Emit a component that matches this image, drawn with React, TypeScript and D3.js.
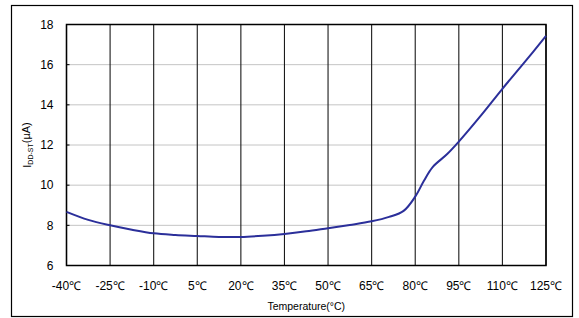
import { useRef, useEffect } from 'react';
import * as d3 from 'd3';

// Temperature (°C) and supply current (µA)
const temps = [-40, -32.5, -25, -17.5, -10, -2.5, 5, 12.5, 20, 27.5, 35, 42.5, 50, 57.5, 65, 71, 76, 80, 83, 86, 91, 95, 102.5, 110, 117.5, 125];
const current = [8.67, 8.27, 8.0, 7.78, 7.6, 7.52, 7.47, 7.42, 7.42, 7.48, 7.57, 7.7, 7.86, 8.02, 8.2, 8.42, 8.72, 9.43, 10.22, 10.9, 11.55, 12.17, 13.45, 14.8, 16.1, 17.43];

const xTicks = [-40, -25, -10, 5, 20, 35, 50, 65, 80, 95, 110, 125];
const yTicks = [6, 8, 10, 12, 14, 16, 18];

export default function App() {
  const svgRef = useRef<SVGSVGElement>(null);
  const width = 579;
  const height = 318;

  useEffect(() => {
    if (!svgRef.current) return;
    const svg = d3.select(svgRef.current);
    svg.selectAll('*').remove();

    const margin = { top: 24.5, right: 33, bottom: 52.5, left: 66.5 };
    const innerW = width - margin.left - margin.right;
    const innerH = height - margin.top - margin.bottom;
    const font = 'Arial, "Liberation Sans", sans-serif';

    // outer frame
    svg.append('rect')
      .attr('x', 11.5).attr('y', 5.5)
      .attr('width', 561).attr('height', 311)
      .attr('fill', '#fff').attr('stroke', '#000').attr('stroke-width', 1.2);

    const g = svg.append('g').attr('transform', `translate(${margin.left},${margin.top})`);

    const x = d3.scaleLinear().domain([-40, 125]).range([0, innerW]);
    const y = d3.scaleLinear().domain([6, 18]).range([innerH, 0]);

    // horizontal grid (light)
    g.selectAll('.hgrid')
      .data(yTicks)
      .enter().append('line')
      .attr('x1', 0).attr('x2', innerW)
      .attr('y1', d => y(d)).attr('y2', d => y(d))
      .attr('stroke', '#c4c4c4').attr('stroke-width', 1);

    // vertical grid (dark)
    g.selectAll('.vgrid')
      .data(xTicks)
      .enter().append('line')
      .attr('x1', d => x(d)).attr('x2', d => x(d))
      .attr('y1', 0).attr('y2', innerH)
      .attr('stroke', '#1a1a1a').attr('stroke-width', 1.1);

    // small y ticks inside
    g.selectAll('.ytick')
      .data(yTicks)
      .enter().append('line')
      .attr('x1', 0).attr('x2', 3)
      .attr('y1', d => y(d)).attr('y2', d => y(d))
      .attr('stroke', '#000');

    // plot border
    g.append('rect')
      .attr('width', innerW).attr('height', innerH)
      .attr('fill', 'none').attr('stroke', '#000').attr('stroke-width', 1.5);

    // y labels
    g.selectAll('.ylab')
      .data(yTicks)
      .enter().append('text')
      .attr('x', -13).attr('y', d => y(d))
      .attr('dy', '0.35em')
      .attr('text-anchor', 'end')
      .attr('font-family', font).attr('font-size', 12)
      .text(d => d);

    // x labels
    g.selectAll('.xlab')
      .data(xTicks)
      .enter().append('text')
      .attr('x', d => x(d)).attr('y', innerH + 20)
      .attr('dy', '0.35em')
      .attr('text-anchor', 'middle')
      .attr('font-family', font).attr('font-size', 12)
      .text(d => `${d}℃`);

    // x axis title
    g.append('text')
      .attr('x', innerW / 2).attr('y', innerH + 41)
      .attr('dy', '0.35em')
      .attr('text-anchor', 'middle')
      .attr('font-family', font).attr('font-size', 10.5)
      .text('Temperature(°C)');

    // y axis title
    const yt = svg.append('text')
      .attr('transform', `translate(27,${margin.top + innerH / 2}) rotate(-90)`)
      .attr('text-anchor', 'middle')
      .attr('dy', '0.35em')
      .attr('font-family', font).attr('font-size', 11);
    yt.append('tspan').text('I');
    yt.append('tspan').attr('font-size', 7).attr('dy', '0.3em').text('DD-ST');
    yt.append('tspan').attr('dy', '-0.3em').text('(µA)');

    // curve
    const pts = temps.map((t, i) => [t, current[i]] as [number, number]);
    const line = d3.line<[number, number]>()
      .x(d => x(d[0]))
      .y(d => y(d[1]))
      .curve(d3.curveCatmullRom.alpha(0.5));

    g.append('path')
      .datum(pts)
      .attr('fill', 'none')
      .attr('stroke', '#2b2f9a')
      .attr('stroke-width', 2)
      .attr('d', line);
  }, []);

  return <svg ref={svgRef} width={width} height={height} style={{ display: 'block', position: 'absolute', left: 0, top: 0 }} />;
}
